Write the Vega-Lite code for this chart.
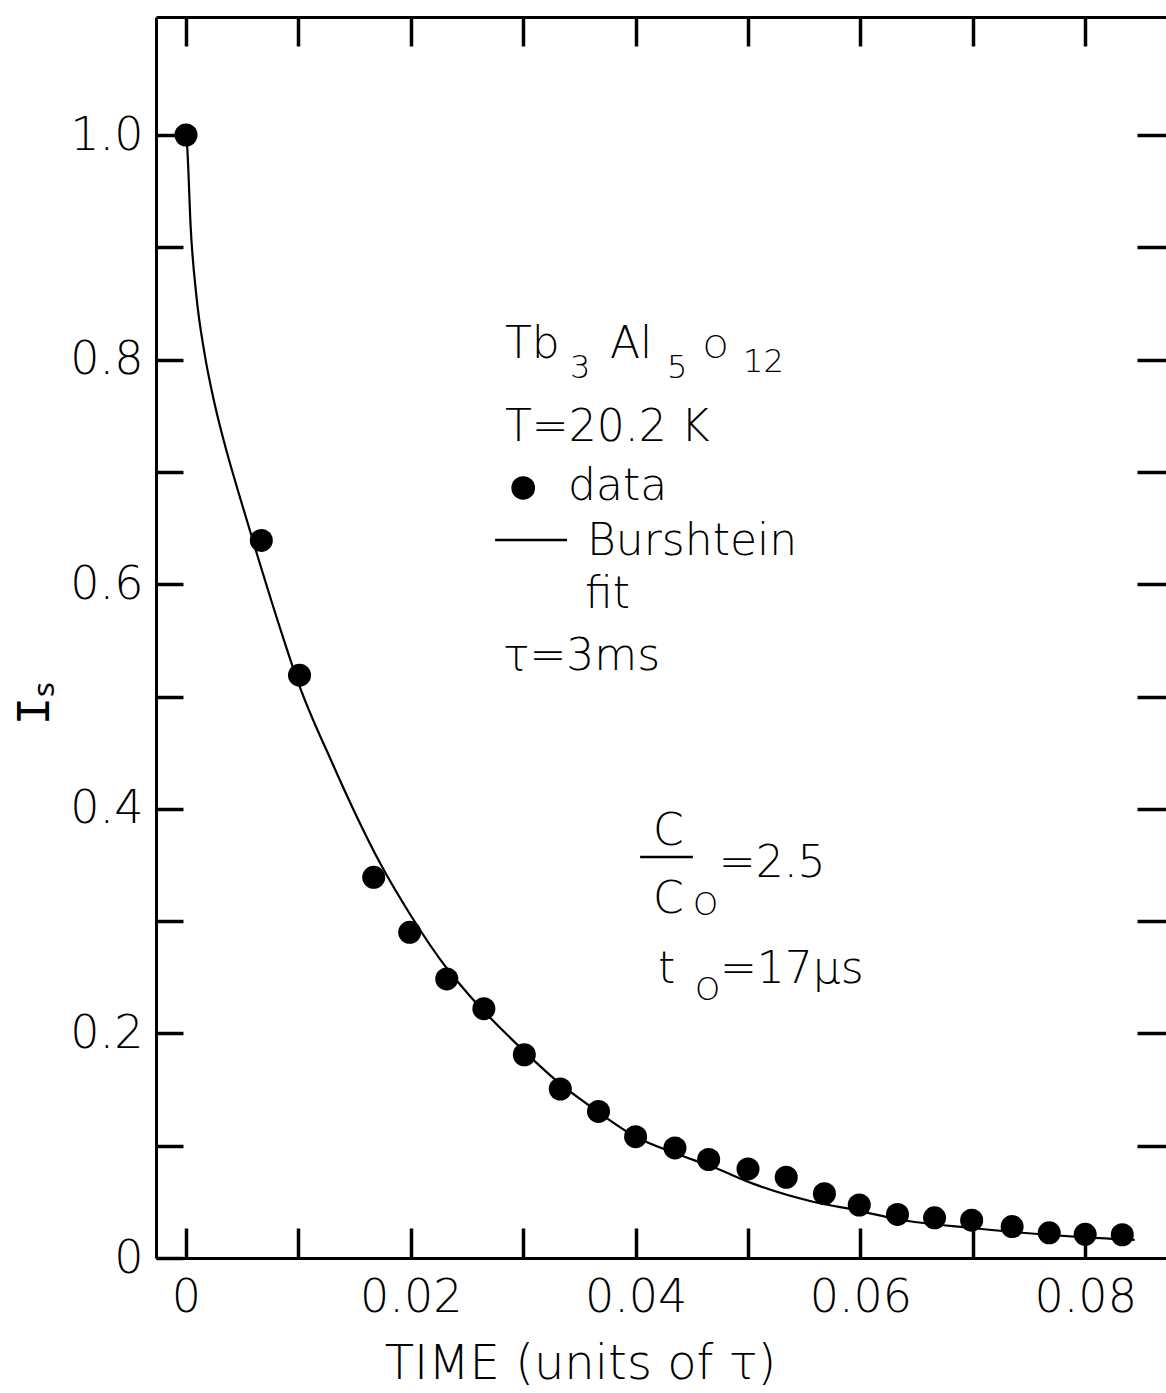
{
  "$schema": "https://vega.github.io/schema/vega-lite/v6.json",
  "width": 1010,
  "height": 1241,
  "autosize": {"type": "none"},
  "padding": {"left": 156, "top": 17, "right": 0, "bottom": 135},
  "background": "white",
  "config": {
    "view": {"stroke": null},
    "font": "DejaVu Sans",
    "axis": {
      "domainColor": "black", "domainWidth": 3,
      "tickColor": "black", "tickWidth": 3.5,
      "labelColor": "black", "labelFont": "DejaVu Sans", "labelFontSize": 46, "labelFontWeight": 200,
      "titleColor": "black", "titleFont": "DejaVu Sans", "titleFontSize": 48, "titleFontWeight": 200,
      "grid": false, "labelOverlap": false, "labelFlush": false
    }
  },
  "datasets": {
    "points": [
      {"t": 0.0, "i": 1.0}, {"t": 0.0067, "i": 0.639}, {"t": 0.0101, "i": 0.519}, {"t": 0.0167, "i": 0.339},
      {"t": 0.0199, "i": 0.290}, {"t": 0.0232, "i": 0.2485}, {"t": 0.0265, "i": 0.222}, {"t": 0.0301, "i": 0.181},
      {"t": 0.0333, "i": 0.1505}, {"t": 0.0367, "i": 0.1305}, {"t": 0.0400, "i": 0.108}, {"t": 0.0435, "i": 0.098},
      {"t": 0.0465, "i": 0.0877}, {"t": 0.0500, "i": 0.0793}, {"t": 0.0534, "i": 0.0719}, {"t": 0.0568, "i": 0.0573},
      {"t": 0.0599, "i": 0.0472}, {"t": 0.0633, "i": 0.0388}, {"t": 0.0666, "i": 0.0358}, {"t": 0.0699, "i": 0.0337},
      {"t": 0.0735, "i": 0.028}, {"t": 0.0768, "i": 0.0224}, {"t": 0.0800, "i": 0.0211}, {"t": 0.0833, "i": 0.0207}
    ],
    "fit": [
      {"t": 0.0, "i": 1.0}, {"t": 0.0001, "i": 0.99}, {"t": 0.00042, "i": 0.917}, {"t": 0.00092, "i": 0.857},
      {"t": 0.00164, "i": 0.806}, {"t": 0.00256, "i": 0.760}, {"t": 0.00365, "i": 0.717}, {"t": 0.00475, "i": 0.679},
      {"t": 0.0064, "i": 0.624}, {"t": 0.0083, "i": 0.563}, {"t": 0.0100, "i": 0.512}, {"t": 0.0130, "i": 0.441},
      {"t": 0.0151, "i": 0.395}, {"t": 0.0173, "i": 0.351}, {"t": 0.0200, "i": 0.305}, {"t": 0.0232, "i": 0.258},
      {"t": 0.0252, "i": 0.234}, {"t": 0.0301, "i": 0.184}, {"t": 0.0333, "i": 0.155}, {"t": 0.0364, "i": 0.132},
      {"t": 0.0400, "i": 0.108}, {"t": 0.0436, "i": 0.093}, {"t": 0.0470, "i": 0.0805}, {"t": 0.0505, "i": 0.066},
      {"t": 0.0557, "i": 0.0503}, {"t": 0.0599, "i": 0.042}, {"t": 0.0633, "i": 0.0345}, {"t": 0.0701, "i": 0.0265},
      {"t": 0.0800, "i": 0.0184}, {"t": 0.0844, "i": 0.0162}
    ],
    "notes": [
      {"x": 0.02838, "y": 0.8014, "txt": "Tb"},
      {"x": 0.03772, "y": 0.8014, "txt": "Al"},
      {"x": 0.02838, "y": 0.7275, "txt": "T=20.2 K"},
      {"x": 0.03399, "y": 0.6750, "txt": "data"},
      {"x": 0.03568, "y": 0.6260, "txt": "Burshtein"},
      {"x": 0.03550, "y": 0.5790, "txt": "fit"},
      {"x": 0.02820, "y": 0.5236, "txt": "τ=3ms"},
      {"x": 0.04155, "y": 0.3678, "txt": "C"},
      {"x": 0.04155, "y": 0.3072, "txt": "C"},
      {"x": 0.04740, "y": 0.3393, "txt": "=2.5"},
      {"x": 0.04199, "y": 0.2449, "txt": "t"},
      {"x": 0.04750, "y": 0.2449, "txt": "=17μs"}
    ],
    "subs": [
      {"x": 0.03416, "y": 0.7836, "txt": "3"},
      {"x": 0.04279, "y": 0.7836, "txt": "5"},
      {"x": 0.04600, "y": 0.8014, "txt": "O"},
      {"x": 0.04956, "y": 0.7890, "txt": "12"},
      {"x": 0.04511, "y": 0.3054, "txt": "O"},
      {"x": 0.04528, "y": 0.2297, "txt": "O"}
    ],
    "legdot": [{"x": 0.0300, "y": 0.6857}],
    "bars": [
      {"x": 0.0275, "x2": 0.0339, "y": 0.6394},
      {"x": 0.0404, "x2": 0.0451, "y": 0.357}
    ]
  },
  "resolve": {"axis": {"x": "independent", "y": "independent"}},
  "layer": [
    {
      "data": {"name": "points"},
      "mark": {"type": "point", "filled": true, "shape": "circle", "size": 530, "color": "black", "opacity": 1},
      "encoding": {
        "x": {"field": "t", "type": "quantitative",
          "scale": {"domain": [-0.00267, 0.08719], "nice": false, "zero": false},
          "axis": {"orient": "bottom", "values": [0, 0.01, 0.02, 0.03, 0.04, 0.05, 0.06, 0.07, 0.08],
            "tickSize": -30, "labelPadding": 47, "labelBaseline": "top",
            "labelExpr": "round(datum.value*100) % 2 == 0 ? (datum.value == 0 ? '0' : format(datum.value, '.2f')) : ''",
            "title": "TIME (units of τ)", "titleX": 424, "titleY": 120, "titleAlign": "center", "titleBaseline": "alphabetic"}},
        "y": {"field": "i", "type": "quantitative",
          "scale": {"domain": [0, 1.10508], "nice": false, "zero": false},
          "axis": {"orient": "left", "values": [0, 0.1, 0.2, 0.3, 0.4, 0.5, 0.6, 0.7, 0.8, 0.9, 1.0],
            "tickSize": -27, "labelPadding": 40, "labelBaseline": "middle",
            "labelExpr": "round(datum.value*10) % 2 == 0 ? (datum.value == 0 ? '0' : format(datum.value, '.1f')) : ''",
            "title": "Iₛ", "titleFont": "Liberation Mono", "titleFontSize": 48, "titleFontWeight": "normal", "titleAngle": 270, "titleX": -108, "titleY": 686, "titleAlign": "center", "titleBaseline": "alphabetic"}}
      }
    },
    {
      "data": {"name": "fit"},
      "mark": {"type": "line", "color": "black", "strokeWidth": 2.2, "interpolate": "monotone"},
      "encoding": {
        "x": {"field": "t", "type": "quantitative",
          "scale": {"domain": [-0.00267, 0.08719], "nice": false, "zero": false},
          "axis": {"orient": "top", "values": [0, 0.01, 0.02, 0.03, 0.04, 0.05, 0.06, 0.07, 0.08],
            "tickSize": -29, "labels": false, "title": null}},
        "y": {"field": "i", "type": "quantitative",
          "scale": {"domain": [0, 1.10508], "nice": false, "zero": false},
          "axis": {"orient": "right", "values": [0.1, 0.2, 0.3, 0.4, 0.5, 0.6, 0.7, 0.8, 0.9, 1.0],
            "tickSize": -29, "labels": false, "domain": false, "title": null}}
      }
    },
    {
      "data": {"name": "notes"},
      "mark": {"type": "text", "align": "left", "baseline": "alphabetic", "fontSize": 44, "fontWeight": 200, "font": "DejaVu Sans", "color": "black"},
      "encoding": {
        "x": {"field": "x", "type": "quantitative", "scale": {"domain": [-0.00267, 0.08719], "nice": false, "zero": false}, "axis": null},
        "y": {"field": "y", "type": "quantitative", "scale": {"domain": [0, 1.10508], "nice": false, "zero": false}, "axis": null},
        "text": {"field": "txt"}
      }
    },
    {
      "data": {"name": "subs"},
      "mark": {"type": "text", "align": "left", "baseline": "alphabetic", "fontSize": 32, "fontWeight": 200, "font": "DejaVu Sans", "color": "black"},
      "encoding": {
        "x": {"field": "x", "type": "quantitative", "scale": {"domain": [-0.00267, 0.08719], "nice": false, "zero": false}, "axis": null},
        "y": {"field": "y", "type": "quantitative", "scale": {"domain": [0, 1.10508], "nice": false, "zero": false}, "axis": null},
        "text": {"field": "txt"}
      }
    },
    {
      "data": {"name": "legdot"},
      "mark": {"type": "point", "filled": true, "shape": "circle", "size": 560, "color": "black", "opacity": 1},
      "encoding": {
        "x": {"field": "x", "type": "quantitative", "scale": {"domain": [-0.00267, 0.08719], "nice": false, "zero": false}, "axis": null},
        "y": {"field": "y", "type": "quantitative", "scale": {"domain": [0, 1.10508], "nice": false, "zero": false}, "axis": null}
      }
    },
    {
      "data": {"name": "bars"},
      "mark": {"type": "rule", "color": "black", "strokeWidth": 2.5},
      "encoding": {
        "x": {"field": "x", "type": "quantitative", "scale": {"domain": [-0.00267, 0.08719], "nice": false, "zero": false}, "axis": null},
        "x2": {"field": "x2"},
        "y": {"field": "y", "type": "quantitative", "scale": {"domain": [0, 1.10508], "nice": false, "zero": false}, "axis": null}
      }
    }
  ]
}
